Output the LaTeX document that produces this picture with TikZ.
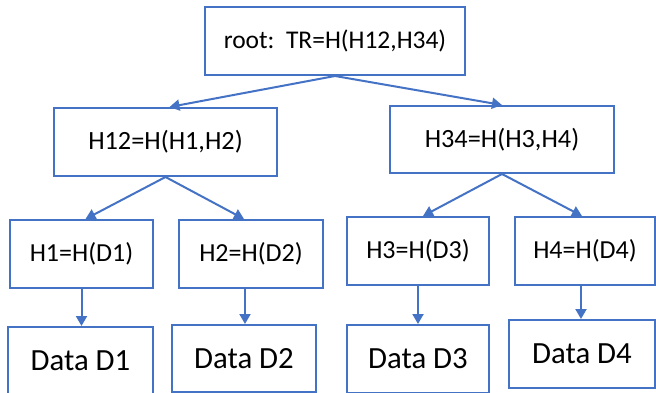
\documentclass[tikz,border=0pt]{standalone}
\usepackage{fontspec}
\setmainfont{Carlito}
\usetikzlibrary{arrows.meta}
\definecolor{boxblue}{HTML}{4472C4}
\tikzset{
  hbox/.style={draw=boxblue, line width=2pt, rectangle, inner sep=0pt, anchor=center, text=black},
  fsroot/.style={font=\fontsize{25.5}{30}\selectfont},
  fsmid/.style={font=\fontsize{26.3}{31}\selectfont},
  fsleaf/.style={font=\fontsize{26}{31}\selectfont},
  fsdata/.style={font=\fontsize{30.8}{36}\selectfont},
  conn/.style={draw=boxblue, line width=2pt, -{Triangle[length=10pt,width=11pt]}}
}
\begin{document}
\begin{tikzpicture}[x=1pt,y=-1pt]
\useasboundingbox (0,0) rectangle (656,393);
\clip (0,0) rectangle (656,393);
\node[hbox, fsroot, minimum width=260pt, minimum height=68pt] (root) at (335,41) {root:\ \ TR=H(H12,H34)};
\node[hbox, fsmid, minimum width=223pt, minimum height=68pt] (h12) at (165.5,142) {H12=H(H1,H2)};
\node[hbox, fsmid, minimum width=224pt, minimum height=67pt] (h34) at (502,139.5) {H34=H(H3,H4)};
\node[hbox, fsleaf, minimum width=143pt, minimum height=68pt] (h1) at (81.5,254) {H1=H(D1)};
\node[hbox, fsleaf, minimum width=144pt, minimum height=68pt] (h2) at (251,254) {H2=H(D2)};
\node[hbox, fsleaf, minimum width=142pt, minimum height=68pt] (h3) at (418,251) {H3=H(D3)};
\node[hbox, fsleaf, minimum width=140pt, minimum height=68pt] (h4) at (585,251) {H4=H(D4)};
\node[hbox, fsdata, minimum width=145pt, minimum height=68pt] (d1) at (80.5,361) {Data D1};
\node[hbox, fsdata, minimum width=144pt, minimum height=67pt] (d2) at (244,358.5) {Data D2};
\node[hbox, fsdata, minimum width=142pt, minimum height=68pt] (d3) at (418,359) {Data D3};
\node[hbox, fsdata, minimum width=146pt, minimum height=68pt] (d4) at (582,354) {Data D4};
\draw[conn] (root.south) -- ([xshift=4pt]h12.north);
\draw[conn] (root.south) -- (h34.north);
\draw[conn] (h12.south) -- ([xshift=4pt]h1.north);
\draw[conn] (h12.south) -- ([xshift=-7pt]h2.north);
\draw[conn] (h34.south) -- ([xshift=5pt]h3.north);
\draw[conn] (h34.south) -- ([xshift=-3pt]h4.north);
\draw[conn] (h1.south) -- (h1.south |- d1.north);
\draw[conn] ([xshift=-6pt]h2.south) -- ([xshift=-6pt]h2.south |- d2.north);
\draw[conn] (h3.south) -- (h3.south |- d3.north);
\draw[conn] ([xshift=-4pt]h4.south) -- ([xshift=-4pt]h4.south |- d4.north);
\end{tikzpicture}
\end{document}
